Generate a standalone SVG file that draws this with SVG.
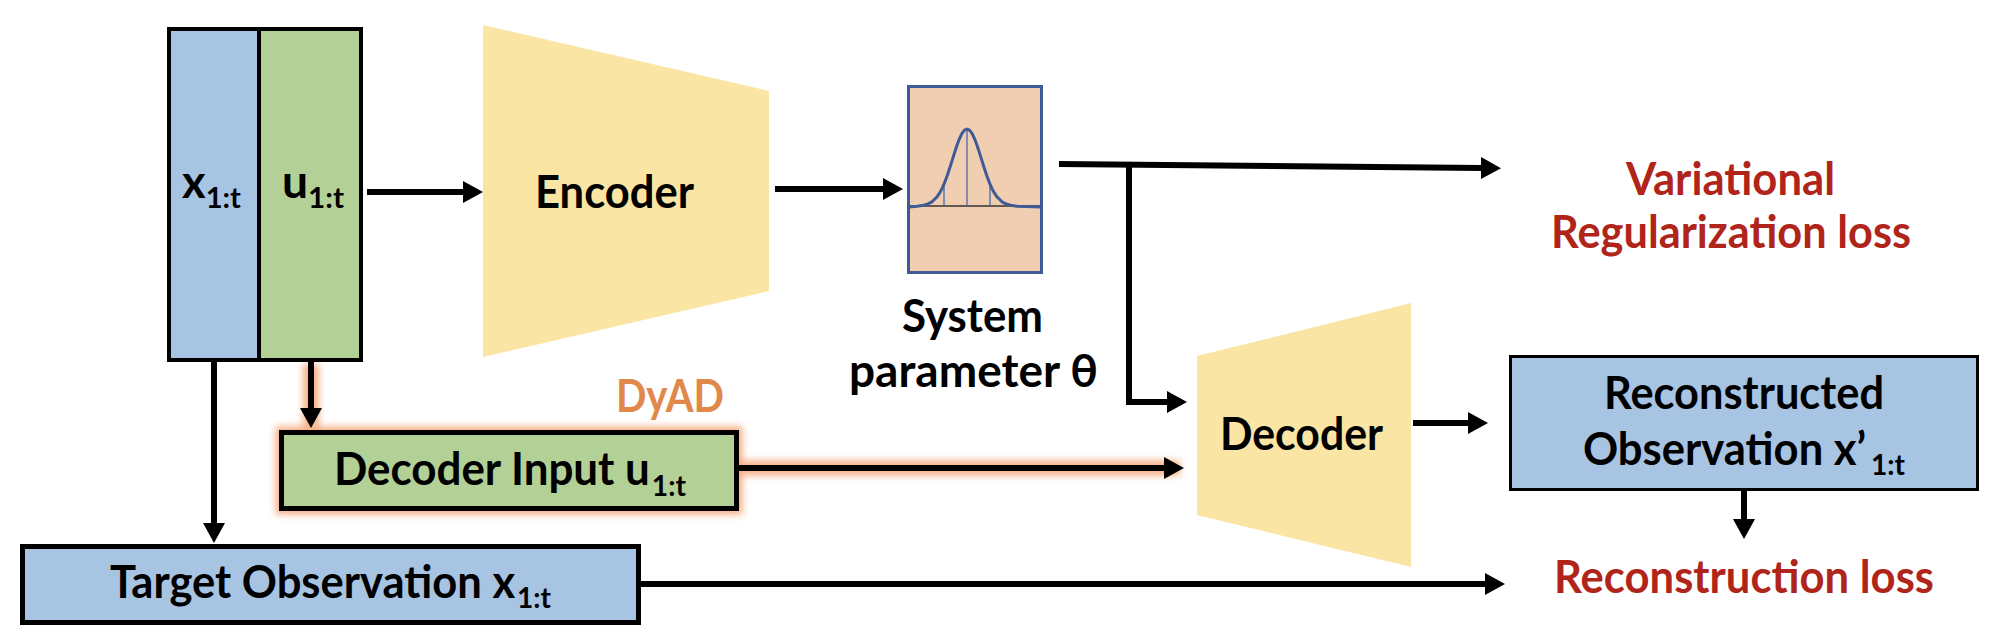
<svg xmlns="http://www.w3.org/2000/svg" width="2012" height="644" viewBox="0 0 2012 644">
<defs>
<style>
.t{font-family:"Lato","Carlito","Liberation Sans",sans-serif;font-weight:bold;font-size:45px;fill:#000}
.sub{font-size:29px}
.red{fill:#B0241A}
.or{fill:#E0894A}
.blue{fill:#A8C4E3}
.green{fill:#B3D197}
.yellow{fill:#FAE5A4}
.con{fill:none;stroke:#000;stroke-width:6;marker-end:url(#ah)}
</style>
<marker id="ah" markerUnits="userSpaceOnUse" markerWidth="20" markerHeight="22" refX="1" refY="11" orient="auto"><path d="M0,0 L20,11 L0,22 Z" fill="#000"/></marker>
<filter id="glow" filterUnits="userSpaceOnUse" x="0" y="0" width="2012" height="644"><feGaussianBlur stdDeviation="3.5"/></filter>
</defs>
<rect width="2012" height="644" fill="#fff"/>

<g id="dyad-glow" filter="url(#glow)" fill="none" stroke="#F5A272" opacity="0.85">
<rect x="281.5" y="432.5" width="455" height="76" stroke-width="12"/>
<path d="M311,364 V426" stroke-width="16"/>
<path d="M739,468 H1180" stroke-width="15"/>
</g>

<g id="input-window">
<rect class="blue" x="169" y="29" width="90" height="331"/>
<rect class="green" x="259" y="29" width="102" height="331"/>
<rect x="169" y="29" width="192" height="331" fill="none" stroke="#000" stroke-width="4"/>
<line x1="259" y1="29" x2="259" y2="360" stroke="#000" stroke-width="4"/>
<text class="t" x="182" y="198" textLength="59" lengthAdjust="spacingAndGlyphs">x<tspan class="sub" dy="10">1:t</tspan></text>
<text class="t" x="282" y="198" textLength="62" lengthAdjust="spacingAndGlyphs">u<tspan class="sub" dy="10">1:t</tspan></text>
</g>

<g id="encoder">
<polygon class="yellow" points="483,25 769,91 769,291 483,357"/>
<text class="t" x="535" y="208" textLength="159" lengthAdjust="spacingAndGlyphs">Encoder</text>
</g>

<g id="system-parameter">
<rect x="908.5" y="86.5" width="133" height="186" fill="#F1CEB1" stroke="#3F5B96" stroke-width="3"/>
<line x1="909" y1="206" x2="1041" y2="206" stroke="#333" stroke-width="1.5"/>
<g stroke="#4A68AE" stroke-width="1.3">
<line x1="944" y1="183" x2="944" y2="206"/>
<line x1="967" y1="130" x2="967" y2="206"/>
<line x1="990" y1="183" x2="990" y2="206"/>
</g>
<path d="M909,207 L917,206.3 L922,205.6 L927,204.3 L932,201.8 L937,196.9 L939.5,193.2 L942,188.6 L944.5,182.9 L947,176.3 L949.5,168.8 L952,160.9 L954.5,152.9 L957,145.3 L959.5,138.6 L962,133.4 L964.5,130.1 L967,129 L969.5,130.1 L972,133.4 L974.5,138.6 L977,145.3 L979.5,152.9 L982,160.9 L984.5,168.8 L987,176.3 L989.5,182.9 L992,188.6 L994.5,193.2 L997,196.9 L1002,201.8 L1007,204.3 L1012,205.6 L1017,206.3 L1041,207" fill="none" stroke="#3F5B96" stroke-width="3" stroke-linejoin="round"/>
<text class="t" x="902" y="332" textLength="141" lengthAdjust="spacingAndGlyphs">System</text>
<text class="t" x="849" y="387" textLength="249" lengthAdjust="spacingAndGlyphs">parameter θ</text>
</g>

<g id="decoder">
<polygon class="yellow" points="1197,356 1411,303 1411,567 1197,515"/>
<text class="t" x="1220" y="450" textLength="163" lengthAdjust="spacingAndGlyphs">Decoder</text>
</g>

<g id="decoder-input">
<rect class="green" x="281.5" y="432.5" width="455" height="76" stroke="#000" stroke-width="5"/>
<text class="t" x="334" y="485" textLength="352" lengthAdjust="spacingAndGlyphs">Decoder Input u<tspan class="sub" dx="2" dy="11">1:t</tspan></text>
<text class="t or" x="616" y="412" textLength="108" lengthAdjust="spacingAndGlyphs">DyAD</text>
</g>

<g id="target-observation">
<rect class="blue" x="22.5" y="546.5" width="616" height="76" stroke="#000" stroke-width="5"/>
<text class="t" x="110" y="598" textLength="441" lengthAdjust="spacingAndGlyphs">Target Observation x<tspan class="sub" dx="2" dy="10">1:t</tspan></text>
</g>

<g id="reconstructed-observation">
<rect class="blue" x="1510.5" y="356.5" width="467" height="133" stroke="#000" stroke-width="3"/>
<text class="t" x="1604" y="409" textLength="280" lengthAdjust="spacingAndGlyphs">Reconstructed</text>
<text class="t" x="1583" y="465" textLength="322" lengthAdjust="spacingAndGlyphs">Observation x’<tspan class="sub" dx="5" dy="10" font-size="26">1:t</tspan></text>
</g>

<g id="variational-loss">
<text class="t red" x="1626" y="195" textLength="209" lengthAdjust="spacingAndGlyphs">Variational</text>
<text class="t red" x="1551" y="248" textLength="360" lengthAdjust="spacingAndGlyphs">Regularization loss</text>
</g>

<g id="reconstruction-loss">
<text class="t red" x="1554" y="593" textLength="380" lengthAdjust="spacingAndGlyphs">Reconstruction loss</text>
</g>

<g id="connectors">
<path class="con" d="M367,192 H464"/>
<path class="con" d="M775,189 H884"/>
<path class="con" d="M1059,164 L1482,168"/>
<path class="con" stroke-width="5" d="M1129,166 V402 H1168"/>
<path class="con" d="M1413,423 H1469"/>
<path class="con" d="M1744,491 V520"/>
<path class="con" d="M214,362 V524"/>
<path class="con" d="M311,362 V409"/>
<path class="con" d="M739,468 H1165"/>
<path class="con" d="M641,584 H1486"/>
</g>
</svg>
